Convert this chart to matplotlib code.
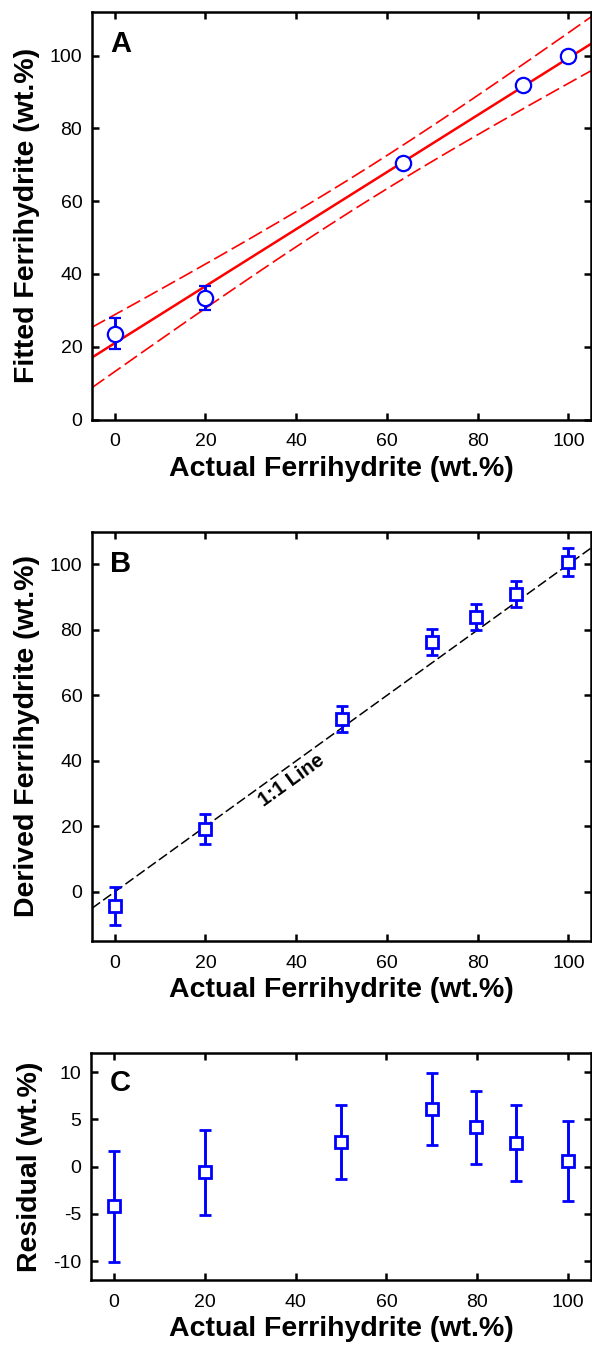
import numpy as np
import matplotlib
matplotlib.use("Agg")
import matplotlib.pyplot as plt

plt.rcParams['font.family'] = ['Liberation Sans', 'DejaVu Sans']
plt.rcParams['axes.unicode_minus'] = False

# ---- Panel A data ----
fit_actual = [0, 20, 63.6, 90.1, 100]
fit_value = [23.6, 33.5, 70.4, 91.8, 100.0]
fit_err = [4.3, 3.3, 0, 0, 0]
conf_t = 4.2

# ---- Panel B data ----
actual = [0, 20, 50, 70, 79.6, 88.4, 100]
derived = [-4.3, 19.2, 52.7, 76.3, 83.9, 91.0, 100.8]
derived_err = [5.9, 4.6, 4.0, 3.9, 3.9, 4.0, 4.2]

# ---- Panel C data ----
residual = [-4.2, -0.6, 2.6, 6.1, 4.15, 2.5, 0.6]
residual_err = [5.9, 4.5, 3.9, 3.85, 3.9, 4.0, 4.25]

xticks = [0, 20, 40, 60, 80, 100]

BLUE = '#0000ff'
RED = '#ff0000'

W, H = 592, 1350
fig = plt.figure(figsize=(W / 100, H / 100), dpi=100)


def pos(left, right, top, bottom):
    return [left / W, 1 - bottom / H, (right - left) / W, (bottom - top) / H]


axA = fig.add_axes(pos(92, 591, 12, 419.5))
axB = fig.add_axes(pos(92, 591, 531.7, 941))
axC = fig.add_axes(pos(91, 591, 1053.3, 1280))

LABEL_FS = 20.5
TICK_FS = 14
LETTER_FS = 21

EB = dict(mfc='white', mec=BLUE, ecolor=BLUE, elinewidth=2.1, capsize=4.5,
          capthick=2.1, zorder=3)


def style(ax):
    for s in ax.spines.values():
        s.set_linewidth(1.8)
    ax.tick_params(direction='in', top=True, right=True, length=5, width=1.8,
                   labelsize=TICK_FS, pad=7)
    ax.tick_params(axis='x', pad=10)
    ax.set_xlim(-5, 105)
    ax.set_xticks(xticks)


def labels(ax, ylab):
    ax.set_xlabel('Actual Ferrihydrite (wt.%)', fontsize=LABEL_FS,
                  fontweight='bold', labelpad=4)
    ax.set_ylabel(ylab, fontsize=LABEL_FS, fontweight='bold', labelpad=7)


# Panel A
x = np.array(fit_actual)
y = np.array(fit_value)
slope, intercept = np.polyfit(x, y, 1)
xx = np.linspace(-5, 105, 200)
yy = slope * xx + intercept
resid = y - (slope * x + intercept)
s = np.sqrt(np.sum(resid ** 2) / (len(x) - 2))
sxx = np.sum((x - x.mean()) ** 2)
half = conf_t * s * np.sqrt(1 / len(x) + (xx - x.mean()) ** 2 / sxx)
axA.plot(xx, yy, color=RED, lw=1.8, zorder=2)
axA.plot(xx, yy + half, color=RED, lw=1.2, dashes=(9, 3), zorder=2)
axA.plot(xx, yy - half, color=RED, lw=1.2, dashes=(9, 3), zorder=2)
axA.errorbar(fit_actual, fit_value, yerr=fit_err, fmt='o', ms=11, mew=1.6, **EB)
style(axA)
axA.set_ylim(0, 112)
axA.set_yticks([0, 20, 40, 60, 80, 100])
labels(axA, 'Fitted Ferrihydrite (wt.%)')
axA.text(0.037, 0.955, 'A', transform=axA.transAxes, fontsize=LETTER_FS,
         fontweight='bold', va='top', ha='left')

# Panel B
axB.plot([-5, 105], [-5, 105], color='black', lw=1.1, dashes=(6.5, 2.5), zorder=2)
axB.errorbar(actual, derived, yerr=derived_err, fmt='s', ms=8.5, mew=2.0, **EB)
style(axB)
axB.set_ylim(-15, 110)
axB.set_yticks([0, 20, 40, 60, 80, 100])
labels(axB, 'Derived Ferrihydrite (wt.%)')
axB.text(0.037, 0.955, 'B', transform=axB.transAxes, fontsize=LETTER_FS,
         fontweight='bold', va='top', ha='left')
axB.text(39, 34, '1:1 Line', rotation=35.7, rotation_mode='anchor',
         fontsize=14.5, fontweight='bold', ha='center', va='center')

# Panel C
axC.errorbar(actual, residual, yerr=residual_err, fmt='s', ms=8.5, mew=2.0, **EB)
style(axC)
axC.set_ylim(-12, 12)
axC.set_yticks([-10, -5, 0, 5, 10])
labels(axC, 'Residual (wt.%)')
axC.text(0.037, 0.93, 'C', transform=axC.transAxes, fontsize=LETTER_FS,
         fontweight='bold', va='top', ha='left')

fig.savefig('out.png', dpi=100)
